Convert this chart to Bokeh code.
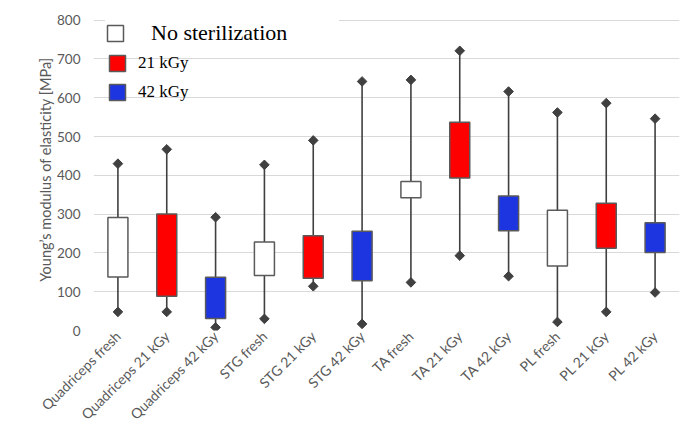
import math
from bokeh.plotting import figure
from bokeh.models import ColumnDataSource, FactorRange, Range1d, FixedTicker, Legend, LegendItem
from bokeh.embed import file_html
from bokeh.resources import INLINE

categories = ["Quadriceps fresh", "Quadriceps 21 kGy", "Quadriceps 42 kGy",
              "STG fresh", "STG 21 kGy", "STG 42 kGy",
              "TA fresh", "TA 21 kGy", "TA 42 kGy",
              "PL fresh", "PL 21 kGy", "PL 42 kGy"]
treatment = ["No sterilization", "21 kGy", "42 kGy"] * 4
minimum = [48, 48, 8, 30, 114, 17, 124, 193, 140, 22, 48, 98]
q1 = [138, 88, 31, 142, 135, 128, 342, 393, 257, 166, 212, 201]
q3 = [291, 300, 137, 228, 244, 256, 384, 537, 347, 310, 328, 278]
maximum = [430, 467, 292, 427, 490, 642, 646, 721, 616, 562, 586, 546]
y_ticks = [0, 100, 200, 300, 400, 500, 600, 700, 800]

colors = {"No sterilization": "#ffffff", "21 kGy": "#ff0000", "42 kGy": "#1c35e0"}
GRAY_TEXT = "#595959"

p = figure(width=683, height=437, output_backend="svg", toolbar_location=None,
           x_range=FactorRange(*categories, range_padding=0),
           y_range=Range1d(0, 830),
           min_border_left=93, min_border_right=4, min_border_top=8, min_border_bottom=107)
p.outline_line_color = None
p.background_fill_color = "white"
p.border_fill_color = "white"

src = ColumnDataSource(dict(cat=categories, treat=treatment, lo=minimum, q1=q1, q3=q3, hi=maximum))

# whiskers
p.segment(x0="cat", y0="lo", x1="cat", y1="hi", source=src, line_color="#404040", line_width=1.6)
p.scatter(x="cat", y="lo", source=src, marker="square", angle=math.pi / 4, size=6.8,
          fill_color="#404040", line_color="#404040")
p.scatter(x="cat", y="hi", source=src, marker="square", angle=math.pi / 4, size=6.8,
          fill_color="#404040", line_color="#404040")

renderers = {}
for t in ["No sterilization", "21 kGy", "42 kGy"]:
    idx = [i for i, tt in enumerate(treatment) if tt == t]
    s = ColumnDataSource(dict(cat=[categories[i] for i in idx],
                              q1=[q1[i] for i in idx], q3=[q3[i] for i in idx]))
    renderers[t] = p.vbar(x="cat", bottom="q1", top="q3", width=0.41, source=s,
                          fill_color=colors[t], line_color="#5a5a5a", line_width=1.5)

# axes
p.xgrid.grid_line_color = None
p.ygrid.grid_line_color = "#d9d9d9"
p.ygrid.grid_line_width = 1.2
p.yaxis.ticker = FixedTicker(ticks=y_ticks)
for ax in (p.xaxis[0], p.yaxis[0]):
    ax.axis_line_color = None
    ax.major_tick_line_color = None
    ax.minor_tick_line_color = None
    ax.major_tick_out = 0
    ax.major_tick_in = 0
    ax.minor_tick_out = 0
    ax.minor_tick_in = 0
    ax.major_label_text_color = GRAY_TEXT
    ax.major_label_text_font = "Lato"
p.yaxis.major_label_text_font_size = "13.5px"
p.yaxis.major_label_standoff = 13
p.yaxis.axis_label = "Young\u2019s modulus of elasticity [MPa]"
p.yaxis.axis_label_text_font = "Lato"
p.yaxis.axis_label_text_font_style = "normal"
p.yaxis.axis_label_text_font_size = "14.5px"
p.yaxis.axis_label_text_color = GRAY_TEXT
p.yaxis.axis_label_standoff = 0
p.xaxis.major_label_orientation = math.pi / 4
p.xaxis.major_label_text_font_size = "14px"
p.xaxis.major_label_standoff = 3

# legends
leg1 = Legend(items=[LegendItem(label="No sterilization", renderers=[renderers["No sterilization"]])],
              location=(12, 284), padding=6, margin=0, spacing=0,
              glyph_width=20, glyph_height=20, label_height=20, label_width=188,
              label_standoff=26, label_text_font="Liberation Serif", label_text_font_size="22px",
              label_text_color="black", border_line_color=None, background_fill_color="white",
              background_fill_alpha=1.0)
leg2 = Legend(items=[LegendItem(label="21 kGy", renderers=[renderers["21 kGy"]]),
                     LegendItem(label="42 kGy", renderers=[renderers["42 kGy"]])],
              location=(14, 228), padding=0, margin=0, spacing=9,
              glyph_width=20, glyph_height=20, label_height=20,
              label_standoff=11, label_text_font="Liberation Serif", label_text_font_size="17px",
              label_text_color="black", border_line_color=None, background_fill_alpha=0.0)
p.add_layout(leg1)
p.add_layout(leg2)

open("out.html", "w").write(file_html(p, INLINE))
